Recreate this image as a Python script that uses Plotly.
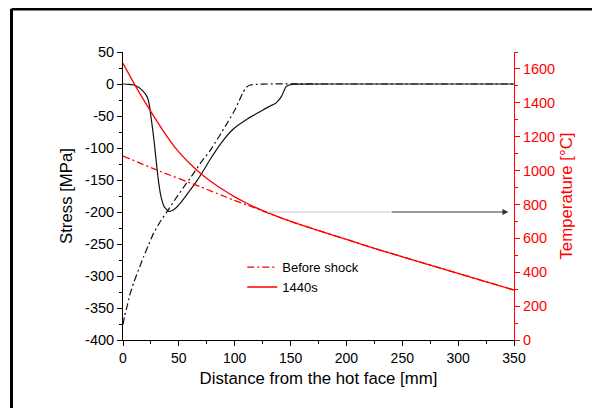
import plotly.graph_objects as go

# ---------------- data ----------------
# Stress after 1440 s (black solid)
stress_1440_x = [0, 5, 9.5, 14, 17, 20, 22, 23.8, 25, 26.5, 28, 30, 32, 34, 37, 41, 45, 50, 55, 60, 65, 70, 78, 88,
                 99, 112, 123, 131, 136, 139, 142, 144, 146, 149, 155, 200, 250, 300, 350]
stress_1440_y = [0, -0.5, -1.5, -5, -9.5, -15.5, -22, -35, -51, -70, -92, -125, -155, -176, -192, -199, -197, -189,
                 -178, -166, -154, -141, -118, -92, -70, -54, -43, -35, -31, -26, -19, -11, -4, -1.5, -0.3, 0, 0, 0, 0]

# Stress before shock (black dash-dot)
stress_before_x = [0, 1.5, 3.6, 6, 9.5, 14, 18.4, 23, 27.4, 33, 39.4, 46, 54, 63, 70, 78, 86, 94, 100, 104, 107.5,
                   110.5, 114, 120, 130, 200, 250, 300, 350]
stress_before_y = [-376, -362, -348, -330, -311, -290, -270, -251, -233, -216, -199.5, -182, -162, -140, -122, -104,
                   -82, -59, -41, -26, -13, -5, -1.5, -0.5, 0, 0, 0, 0, 0]

# Temperature after 1440 s (red solid)
temp_1440_x = [0, 12, 24, 36, 48, 60, 70, 80, 90, 100, 110, 120, 130, 145, 160, 175, 200, 230, 260, 290, 320, 350]
temp_1440_y = [1633, 1490, 1358, 1235, 1125, 1040, 980, 930, 885, 845, 810, 778, 750, 712, 678, 646, 594, 531, 472,
               413, 354, 295]

# Temperature before shock (red dash-dot)
temp_before_x = [0, 30, 69, 99, 111, 123, 130, 145, 160, 175, 200, 230, 260, 290, 320, 350]
temp_before_y = [1086, 1004, 905, 826, 797, 767, 750, 712, 678, 646, 594, 531, 472, 413, 354, 295]

# Arrow marking (pointing to the temperature axis)
arrow_y = -200
arrow_x_start = 129
arrow_x_mid = 239
arrow_x_end = 345

# Tick labels
x_ticks = [0, 50, 100, 150, 200, 250, 300, 350]
x_ticklabels = ["0", "50", "100", "150", "200", "250", "300", "350"]
y_ticks = [50, 0, -50, -100, -150, -200, -250, -300, -350, -400]
y_ticklabels = ["50", "0", "-50", "-100", "-150", "-200", "-250", "-300", "-350", "-400"]
t_ticks = [0, 200, 400, 600, 800, 1000, 1200, 1400, 1600]
t_ticklabels = ["0", "200", "400", "600", "800", "1000", "1200", "1400", "1600"]

# ---------------- figure ----------------
FONT = "Liberation Sans, Arial, sans-serif"
RED = "#ff0000"
DASHDOT = "7px,3px,2px,3px"

fig = go.Figure()

fig.add_trace(go.Scatter(x=temp_before_x, y=temp_before_y, yaxis="y2", mode="lines", name="Before shock",
                         line=dict(color=RED, width=1.3, dash=DASHDOT, shape="spline", smoothing=0.6)))
fig.add_trace(go.Scatter(x=temp_1440_x, y=temp_1440_y, yaxis="y2", mode="lines", name="1440s",
                         line=dict(color=RED, width=1.3, shape="spline", smoothing=0.6)))
fig.add_trace(go.Scatter(x=stress_before_x, y=stress_before_y, mode="lines", showlegend=False,
                         line=dict(color="#111111", width=1.2, dash=DASHDOT, shape="spline", smoothing=0.5)))
fig.add_trace(go.Scatter(x=stress_1440_x, y=stress_1440_y, mode="lines", showlegend=False,
                         line=dict(color="#111111", width=1.2, shape="spline", smoothing=0.5)))

# Arrow: faint gray tail then dark arrow
fig.add_shape(type="line", xref="x", yref="y", x0=arrow_x_start, x1=arrow_x_mid, y0=arrow_y, y1=arrow_y,
              line=dict(color="#c8c8c8", width=1))
fig.add_annotation(x=arrow_x_end, y=arrow_y, ax=arrow_x_mid, ay=arrow_y, xref="x", yref="y", axref="x", ayref="y",
                   text="", showarrow=True, arrowhead=2, arrowsize=1.2, arrowwidth=1, arrowcolor="#333333")

# Outer frame (top and left edges visible)
fig.add_shape(type="line", xref="paper", yref="paper", x0=-0.2852, x1=1.3, y0=1.149, y1=1.149,
              line=dict(color="black", width=3))
fig.add_shape(type="line", xref="paper", yref="paper", x0=-0.2852, x1=-0.2852, y0=1.149, y1=-0.3,
              line=dict(color="black", width=3))

axis_common = dict(showgrid=False, zeroline=False, showline=True, ticks="outside", ticklen=5, tickwidth=1)

fig.update_layout(
    width=592, height=400,
    margin=dict(l=115, r=86, t=44, b=68),
    paper_bgcolor="white", plot_bgcolor="white",
    font=dict(family=FONT, size=13, color="black"),
    showlegend=True,
    legend=dict(x=0.305, y=0.305, xanchor="left", yanchor="top", bgcolor="rgba(0,0,0,0)",
                font=dict(family=FONT, size=13, color="black"), tracegroupgap=0, itemwidth=30),
    xaxis=dict(range=[0, 350], tickvals=x_ticks, ticktext=x_ticklabels, linecolor="black", tickcolor="black",
               tickfont=dict(size=14),
               minor=dict(dtick=25, ticks="outside", ticklen=3, tickcolor="black"),
               title=dict(text="Distance from the hot face [mm]", font=dict(size=16.8), standoff=7),
               **axis_common),
    yaxis=dict(range=[-400, 50], tickvals=y_ticks, ticktext=y_ticklabels, linecolor="black", tickcolor="black",
               tickfont=dict(size=14.5),
               minor=dict(dtick=25, ticks="outside", ticklen=3, tickcolor="black"),
               title=dict(text="Stress [MPa]", font=dict(size=16.8), standoff=8),
               **axis_common),
    yaxis2=dict(range=[0, 1700], overlaying="y", side="right", anchor="x",
                tickvals=t_ticks, ticktext=t_ticklabels, linecolor=RED, tickcolor=RED,
                tickfont=dict(color=RED, size=14.5),
                minor=dict(dtick=100, ticks="outside", ticklen=3, tickcolor=RED),
                title=dict(text="Temperature [°C]", font=dict(size=16.8, color=RED), standoff=6),
                **axis_common),
)

fig.write_html("out.html")
